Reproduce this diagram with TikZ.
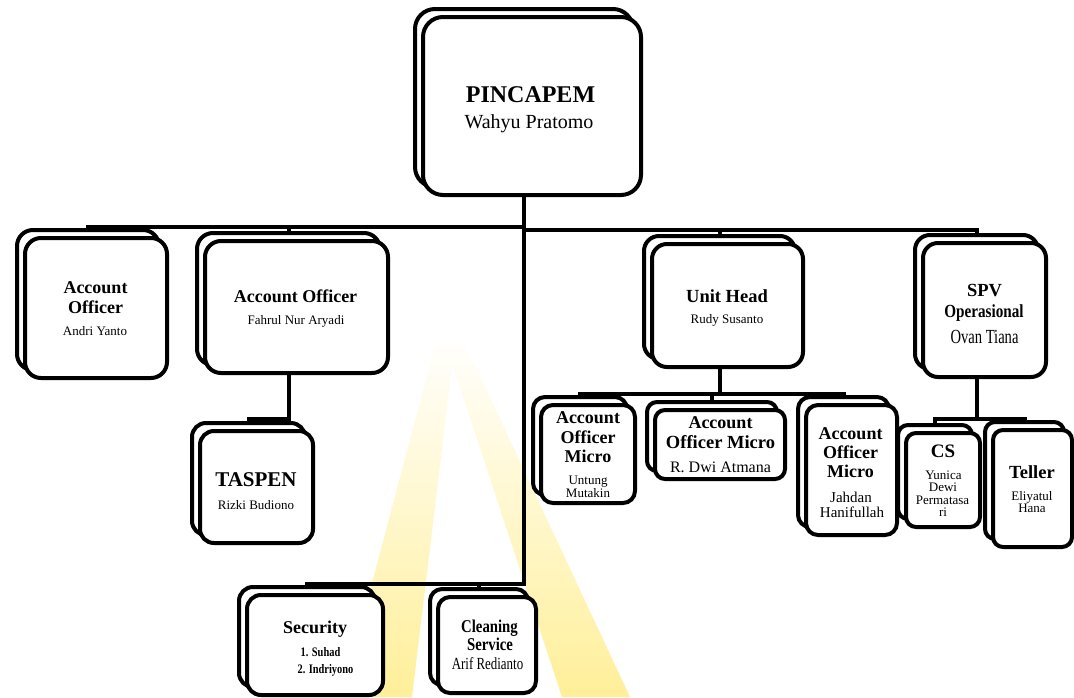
\documentclass[tikz,border=0pt]{standalone}
\usepackage{fontspec}
\setmainfont{Liberation Serif}
\usepackage{graphicx}
\usetikzlibrary{shadows,backgrounds,calc}
\definecolor{wmark}{RGB}{255,226,70}
\newcommand\txsz[1]{\fontsize{#1}{#1}\selectfont}
\newcommand\narrow[2]{\scalebox{#1}[1]{#2}}

\begin{document}
\begin{tikzpicture}[x=1pt,y=-1pt,
  card/.style={draw=black, fill=white, line width=4pt, rounded corners=#1pt, inner sep=0pt,
    copy shadow={shadow xshift=-8pt, shadow yshift=8pt, draw=black, fill=white, line width=4pt}},
  wire/.style={draw=black, line width=4pt},
  tx/.style={anchor=base, inner sep=0pt, text=black},
  role/.style={tx, font=\bfseries\txsz{#1}},
  person/.style={tx, font=\txsz{#1}},
]
\useasboundingbox (0,0) rectangle (1074,697);

% faint yellow "A" emblem behind the chart
\begin{scope}[on background layer]
  \shade[top color=white, bottom color=wmark!55] (438,333) -- (456,333) -- (412,697) -- (342,697) -- cycle;
  \shade[top color=white, bottom color=wmark!55] (442,333) -- (460,333) -- (630,697) -- (562,697) -- cycle;
\end{scope}

% ---------- boxes ----------
\node[card=20, minimum width=218pt, minimum height=178pt] (pin) at (532,106) {};
\node[card=16, minimum width=142pt, minimum height=140pt] (ao1) at (96,308) {};
\node[card=16, minimum width=183pt, minimum height=132pt] (ao2) at (296.5,307) {};
\node[card=14, minimum width=113pt, minimum height=112pt] (tas) at (256.5,487) {};
\node[card=15, minimum width=151pt, minimum height=123pt] (uh) at (727.5,305.5) {};
\node[card=15, minimum width=123pt, minimum height=134pt] (spv) at (984.5,310) {};
\node[card=12, minimum width=94pt, minimum height=98pt] (m1) at (588,454) {};
\node[card=10, minimum width=130pt, minimum height=69pt] (m2) at (720,444.5) {};
\node[card=12, minimum width=91pt, minimum height=130pt] (m3) at (851.5,470) {};
\node[card=10, minimum width=74pt, minimum height=94pt] (cs) at (943,480) {};
\node[card=10, minimum width=79pt, minimum height=117pt] (tel) at (1032.5,488.5) {};
\node[card=14, minimum width=136pt, minimum height=100pt] (sec) at (315,645) {};
\node[card=12, minimum width=98pt, minimum height=96pt] (cln) at (487,645) {};

% ---------- texts ----------
\node[role=24] (pinA) at (530.5,102) {PINCAPEM};
\node[person=20] (pinB) at (529,128) {Wahyu Pratomo};

\node[role=18] (ao1A) at (95.5,293) {Account};
\node[role=18] (ao1B) at (95.5,313) {Officer};
\node[person=13] (ao1C) at (95,335) {Andri Yanto};

\node[role=18] (ao2A) at (295.5,302) {Account Officer};
\node[person=13] (ao2B) at (296,324) {Fahrul Nur Aryadi};

\node[role=21] (tasA) at (256,486) {TASPEN};
\node[person=13] (tasB) at (256,509) {Rizki Budiono};

\node[role=18.5] (uhA) at (727,302) {Unit Head};
\node[person=13] (uhB) at (727,323) {Rudy Susanto};

\node[role=18.5] (spvA) at (984.5,296) {SPV};
\node[role=18.5] (spvB) at (984,317) {\narrow{0.82}{Operasional}};
\node[person=20] (spvC) at (984.5,343) {\narrow{0.73}{Ovan Tiana}};

\node[role=18] (m1A) at (588,423) {Account};
\node[role=18] (m1B) at (588,443) {Officer};
\node[role=18] (m1C) at (588,462) {Micro};
\node[person=13] (m1D) at (588,484) {Untung};
\node[person=13] (m1E) at (588,497) {Mutakin};

\node[role=18] (m2A) at (720.5,428) {Account};
\node[role=18.5] (m2B) at (720.5,448) {Officer Micro};
\node[person=16] (m2C) at (720.5,472) {R. Dwi Atmana};

\node[role=18] (m3A) at (850.5,439) {Account};
\node[role=18] (m3B) at (850.5,458) {Officer};
\node[role=18] (m3C) at (850.5,477) {Micro};
\node[person=15] (m3D) at (851,502) {Jahdan};
\node[person=15] (m3E) at (852,517) {Hanifullah};

\node[role=19] (csA) at (943,457) {CS};
\node[person=13] (csB) at (943.5,479) {Yunica};
\node[person=13] (csC) at (943,491) {Dewi};
\node[person=13] (csD) at (942.5,504) {Permatasa};
\node[person=13] (csE) at (943,516) {ri};

\node[role=18.5] (telA) at (1032,478) {Teller};
\node[person=13] (telB) at (1032,500) {Eliyatul};
\node[person=13] (telC) at (1032,512) {Hana};

\node[role=18] (secA) at (315,633) {Security};
\node[role=13] (secB) at (320.5,656) {\narrow{0.8}{1. Suhad}};
\node[role=13] (secC) at (325.5,673) {\narrow{0.8}{2. Indriyono}};

\node[role=18] (clnA) at (489.5,632) {\narrow{0.82}{Cleaning}};
\node[role=18] (clnB) at (490,650) {\narrow{0.82}{Service}};
\node[person=17] (clnC) at (487.5,669) {\narrow{0.76}{Arif Redianto}};

% ---------- connectors ----------
\begin{scope}[on background layer]
  \draw[wire] ($(pin.south)+(-8,0)$) -- ++(0,30) -| ($(ao1.north)+(-8,-8)$);
  \draw[wire] ($(pin.south)+(-8,0)$) -- ++(0,30) -| ($(ao2.north)+(-8,-8)$);
  \draw[wire] ($(pin.south)+(-8,0)$) -- ++(0,33) -| ($(uh.north)+(-8,-8)$);
  \draw[wire] ($(pin.south)+(-8,0)$) -- ++(0,33) -| ($(spv.north)+(-8,-8)$);
  \draw[wire] ($(pin.south)+(-8,0)$) -- ++(0,387) -| ($(sec.north)+(-8,-8)$);
  \draw[wire] ($(pin.south)+(-8,0)$) -- ++(0,387) -| ($(cln.north)+(-8,-8)$);
  \draw[wire] ($(ao2.south)+(-8,0)$) -- ++(0,44) -| ($(tas.north)+(-8,-8)$);
  \draw[wire] ($(uh.south)+(-8,0)$) -- ++(0,25) -| ($(m1.north)+(-8,-8)$);
  \draw[wire] ($(uh.south)+(-8,0)$) -- ++(0,25) -| ($(m2.north)+(-8,-8)$);
  \draw[wire] ($(uh.south)+(-8,0)$) -- ++(0,25) -| ($(m3.north)+(-8,-8)$);
  \draw[wire] ($(spv.south)+(-8,0)$) -- ++(0,40) -| ($(cs.north)+(-8,-8)$);
  \draw[wire] ($(spv.south)+(-8,0)$) -- ++(0,40) -| ($(tel.north)+(-8,-8)$);
\end{scope}
\end{tikzpicture}
\end{document}
